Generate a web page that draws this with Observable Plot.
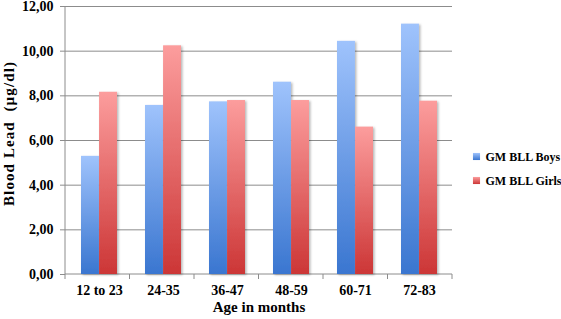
<!DOCTYPE html>
<html><head><meta charset="utf-8">
<script src="https://cdn.jsdelivr.net/npm/d3@7"></script>
<script src="https://cdn.jsdelivr.net/npm/@observablehq/plot@0.6"></script>
<style>
body{margin:0;background:#fff}
#chart svg{overflow:visible}
#chart g[aria-label="bar"] rect{filter:url(#barShadow)}
</style>
</head><body><div id="chart"></div>
<script>
const ages = ["12 to 23","24-35","36-47","48-59","60-71","72-83"];
const boys = [5.29, 7.57, 7.73, 8.61, 10.44, 11.21];
const girls = [8.16, 10.24, 7.79, 7.79, 6.60, 7.76];
const seriesNames = ["GM BLL Boys", "GM BLL Girls"];
const yTicks = [0, 2, 4, 6, 8, 10, 12];
const yTitle = "Blood Lead  (µg/dl)";
const xTitle = "Age in months";

const W = 561, H = 319, ML = 65, MR = 109, MT = 6, MB = 45;
const PAD = 0.44;
const halfBand = ((W - ML - MR) / ages.length) * (1 - PAD) / 2;
const grid = "#8c8c8c";
const font = "Liberation Serif";

const boysData = ages.map((a, i) => ({age: a, value: boys[i]}));
const girlsData = ages.map((a, i) => ({age: a, value: girls[i]}));

const defs = () => {
  const g = d3.create("svg:defs");
  const mk = (id, top, bottom) => {
    const lg = g.append("linearGradient").attr("id", id).attr("x1", 0).attr("y1", 0).attr("x2", 0).attr("y2", 1);
    lg.append("stop").attr("offset", "0%").attr("stop-color", top);
    lg.append("stop").attr("offset", "100%").attr("stop-color", bottom);
  };
  mk("gBlue", "#9fc3fc", "#3a76d0");
  mk("gRed", "#fc9d9d", "#cc3636");
  const f = g.append("filter").attr("id", "barShadow").attr("x", "-20%").attr("y", "-5%").attr("width", "150%").attr("height", "115%");
  f.append("feDropShadow").attr("dx", 1.5).attr("dy", 1).attr("stdDeviation", 1.2).attr("flood-color", "#000").attr("flood-opacity", 0.28);
  return g.node();
};

const axesFrame = (index, scales, values, dims) => {
  const g = d3.create("svg:g").attr("stroke", grid).attr("fill", "none");
  const x0 = dims.marginLeft, x1 = dims.width - dims.marginRight;
  const yb = scales.y(0), yt = scales.y(12);
  g.append("line").attr("x1", x0).attr("x2", x0).attr("y1", yt).attr("y2", yb);
  g.append("line").attr("x1", x0).attr("x2", x1).attr("y1", yb).attr("y2", yb);
  const step = (x1 - x0) / ages.length;
  d3.range(ages.length + 1).forEach(k => {
    g.append("line").attr("x1", x0 + k * step).attr("x2", x0 + k * step).attr("y1", yb).attr("y2", yb + 5);
  });
  return g.node();
};

const plot = Plot.plot({
  width: W, height: H,
  marginLeft: ML, marginRight: MR, marginTop: MT, marginBottom: MB,
  style: {fontFamily: font, fontSize: "14px", color: "#000", background: "#fff"},
  x: {domain: ages, paddingInner: PAD, paddingOuter: PAD / 2, label: null},
  y: {domain: [0, 12], label: null},
  marks: [
    defs,
    Plot.ruleY(yTicks.filter(d => d > 0), {stroke: grid, strokeWidth: 1}),
    axesFrame,
    Plot.barY(boysData, {x: "age", y: "value", fill: "url(#gBlue)", insetRight: halfBand}),
    Plot.barY(girlsData, {x: "age", y: "value", fill: "url(#gRed)", insetLeft: halfBand}),
    Plot.axisY({ticks: yTicks, tickFormat: d => d3.format(".2f")(d).replace(".", ","), tickSize: 5, tickPadding: 7, stroke: grid, fontWeight: "bold", fontSize: 14, label: null}),
    Plot.axisX({tickSize: 0, tickPadding: 11, fontWeight: "bold", fontSize: 14, label: null}),
    Plot.text([yTitle], {frameAnchor: "left", textAnchor: "middle", rotate: -90, dx: -56, dy: -7, fontWeight: "bold", fontSize: 15, style: "letter-spacing:1.1px"}),
    Plot.text([xTitle], {frameAnchor: "bottom", textAnchor: "middle", dy: 37, fontWeight: "bold", fontSize: 15}),
    Plot.dot([seriesNames[0]], {frameAnchor: "right", dx: 24, dy: 16, symbol: "square", r: 4, fill: "url(#gBlue)", stroke: null}),
    Plot.dot([seriesNames[1]], {frameAnchor: "right", dx: 24, dy: 40, symbol: "square", r: 4, fill: "url(#gRed)", stroke: null}),
    Plot.text([seriesNames[0]], {frameAnchor: "right", dx: 33, dy: 17, textAnchor: "start", fontWeight: "bold", fontSize: 12}),
    Plot.text([seriesNames[1]], {frameAnchor: "right", dx: 33, dy: 41, textAnchor: "start", fontWeight: "bold", fontSize: 12})
  ]
});
plot.querySelectorAll('g[aria-label="text"] text').forEach(t => {
  if (t.textContent === yTitle) t.setAttribute("letter-spacing", "1.1");
});
document.getElementById("chart").append(plot);
</script>
</body></html>
